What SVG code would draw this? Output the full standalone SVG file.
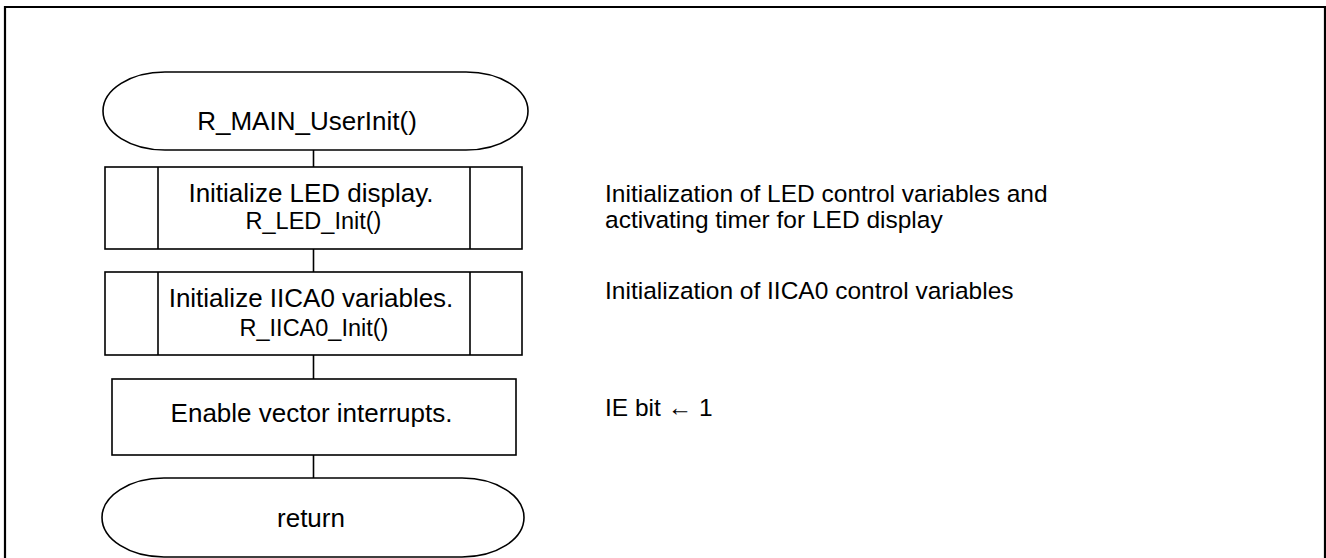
<svg xmlns="http://www.w3.org/2000/svg" width="1326" height="558" viewBox="0 0 1326 558">
<style>
.s{fill:#fff;stroke:#000;stroke-width:1.6}
.t{font-family:"Liberation Sans",Arial,sans-serif;font-size:26px;fill:#000;text-anchor:middle}
.ts{font-family:"Liberation Sans",Arial,sans-serif;font-size:23.5px;fill:#000;text-anchor:middle}
.n{font-family:"Liberation Sans",Arial,sans-serif;font-size:24.5px;fill:#000}
.c{stroke:#000;stroke-width:1.6;fill:none}
</style>
<rect width="1326" height="558" fill="#fff"/>
<path d="M5,560 V7 H1325 V560" fill="none" stroke="#000" stroke-width="2.2"/>
<g id="connectors">
<line class="c" x1="313.5" y1="150" x2="313.5" y2="167"/>
<line class="c" x1="313.5" y1="249" x2="313.5" y2="272"/>
<line class="c" x1="313.5" y1="355" x2="313.5" y2="379"/>
<line class="c" x1="313.5" y1="455" x2="313.5" y2="478"/>
</g>
<g id="start">
<rect class="s" x="103" y="72" width="425" height="78" rx="62" ry="39"/>
<text class="t" x="307" y="130">R_MAIN_UserInit()</text>
</g>
<g id="led_init">
<rect class="s" x="105" y="167" width="417" height="82"/>
<line class="c" x1="158" y1="167" x2="158" y2="249"/>
<line class="c" x1="470" y1="167" x2="470" y2="249"/>
<text class="t" x="311" y="202">Initialize LED display.</text>
<text class="ts" x="313.5" y="229">R_LED_Init()</text>
</g>
<g id="iica0_init">
<rect class="s" x="105" y="272" width="417" height="83"/>
<line class="c" x1="158" y1="272" x2="158" y2="355"/>
<line class="c" x1="470" y1="272" x2="470" y2="355"/>
<text class="t" x="311" y="307">Initialize IICA0 variables.</text>
<text class="ts" x="314" y="336">R_IICA0_Init()</text>
</g>
<g id="enable_int">
<rect class="s" x="112" y="379" width="404" height="76"/>
<text class="t" x="311.5" y="422">Enable vector interrupts.</text>
</g>
<g id="end">
<rect class="s" x="102" y="478" width="422" height="79" rx="62" ry="39.5"/>
<text class="t" x="311" y="527">return</text>
</g>
<g id="notes">
<text class="n" x="605" y="202">Initialization of LED control variables and</text>
<text class="n" x="605" y="228">activating timer for LED display</text>
<text class="n" x="605" y="299">Initialization of IICA0 control variables</text>
<text class="n" x="605" y="416">IE bit ← 1</text>
</g>
</svg>
